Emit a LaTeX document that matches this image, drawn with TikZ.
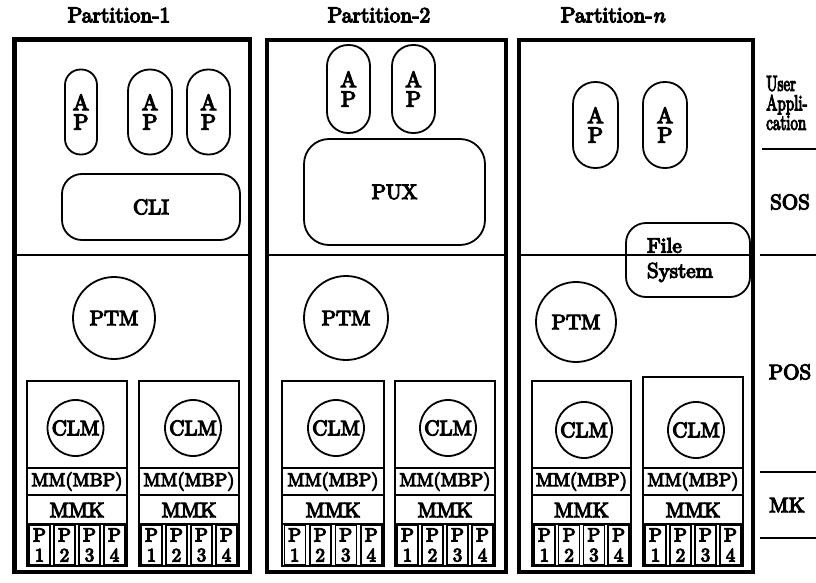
\documentclass[tikz,border=0pt]{standalone}
\usepackage{fontspec}
\setmainfont{lmroman10-regular.otf}[ItalicFont=lmroman10-italic.otf, FakeBold=5.5]
\newcommand\clmstack[6]{%
  \draw[innerbox] (#2,#4) rectangle (#3,566);
  \draw[rowline] (#2,468) -- (#3,468);
  \draw[rowline] (#2,495) -- (#3,495);
  \draw[rowline] (#2,524) -- (#3,524);
  \node[circ, minimum size=56pt] (#1clm) at (#5,#6) {CLM};
  \node[rowtxt] (#1mm) at ({(#2+#3)/2},481.5) {MM(MBP)};
  \node[rowtxt, font=\fontsize{21}{24}\selectfont] (#1mmk) at ({(#2+#3)/2},510) {MMK};
  \foreach \k in {1,2,3,4} {\node[cell] (#1p\k) at ({#2+(\k-0.5)*(#3-#2)/4},545) {P\\\k};}
}
\begin{document}
\begin{tikzpicture}[x=1pt,y=-1pt,
  title/.style={font=\fontsize{21.5}{25}\selectfont},
  outerbox/.style={line width=4.5pt},
  divider/.style={line width=2.4pt},
  innerbox/.style={line width=2.8pt},
  rowline/.style={line width=2.2pt},
  ap/.style={draw, line width=1.8pt, minimum height=85pt, align=center, inner sep=0pt, font=\fontsize{22}{19.5}\selectfont},
  rbox/.style={draw, line width=1.8pt, inner sep=0pt, font=\fontsize{21}{25}\selectfont},
  circ/.style={draw, circle, line width=1.8pt, inner sep=0pt, font=\fontsize{21}{25}\selectfont},
  rowtxt/.style={inner sep=0pt, font=\fontsize{18.5}{22}\selectfont},
  cell/.style={draw, line width=1.5pt, minimum width=21pt, minimum height=40pt, inner sep=0pt, align=center, font=\fontsize{19}{20}\selectfont},
  side/.style={font=\fontsize{21}{25}\selectfont},
  sideline/.style={line width=2.4pt}]
\useasboundingbox (0,0) rectangle (816,583);
% titles
\node[title] (t1) at (119,15) {Partition-1};
\node[title] (t2) at (379,15) {Partition-2};
\node[title] (t3) at (613,15) {Partition-\textit{n}};
% outer boxes
\draw[outerbox] (14.5,39.5) rectangle (250,572);
\draw[outerbox] (267,40) rectangle (506,572);
\draw[outerbox] (519,40) rectangle (753,572);
\draw[divider] (14.5,255) -- (250,255);
\draw[divider] (267,255) -- (506,255);
\draw[divider] (519,255) -- (753,255);
% partition 1
\node[ap, minimum width=32pt, rounded corners=15.5pt] (ap11) at (81,112) {A\\P};
\node[ap, minimum width=44pt, rounded corners=21.5pt] (ap12) at (150,112) {A\\P};
\node[ap, minimum width=43pt, rounded corners=21pt] (ap13) at (208.5,112) {A\\P};
\node[rbox, minimum width=178pt, minimum height=66pt, rounded corners=20pt] (cli) at (151,207) {CLI};
\node[circ, minimum size=82pt] (ptm1) at (114,318) {PTM};
\clmstack{a}{27}{127}{381}{75.5}{428}
\clmstack{b}{139}{239}{381}{193}{428}
% partition 2
\node[ap, minimum width=43pt, minimum height=88pt, rounded corners=21pt] (ap21) at (348.5,89) {A\\P};
\node[ap, minimum width=43pt, minimum height=88pt, rounded corners=21pt] (ap22) at (413.5,89) {A\\P};
\node[rbox, minimum width=181pt, minimum height=106pt, rounded corners=25pt] (pux) at (394.5,192) {PUX};
\node[circ, minimum size=84pt] (ptm2) at (346,318) {PTM};
\clmstack{c}{282}{384}{381}{336}{428}
\clmstack{d}{395}{495}{381}{448}{428}
% partition n
\node[ap, minimum width=45pt, minimum height=86pt, rounded corners=22pt] (ap31) at (595.5,125) {A\\P};
\node[ap, minimum width=44pt, minimum height=86pt, rounded corners=21.5pt] (ap32) at (665,125) {A\\P};
\node[rbox, minimum width=124pt, minimum height=74pt, rounded corners=20pt, text width=82pt, inner xsep=21pt, align=left] (fs) at (688,260) {File\\System};
\node[circ, minimum size=80pt] (ptm3) at (576,322) {PTM};
\clmstack{e}{532}{631}{381}{584}{430}
\clmstack{f}{643}{743}{377}{696}{430}
% side labels
\node[anchor=west, align=left, inner sep=0pt, font=\fontsize{21.5}{19.5}\selectfont] (ua) at (766,103) {\scalebox{0.7}[1]{User}\\\scalebox{0.7}[1]{Appli-}\\\scalebox{0.7}[1]{cation}};
\node[side] (sos) at (790,202) {SOS};
\node[side] (pos) at (790,372) {POS};
\node[side] (mk) at (787,505) {MK};
\coordinate (l1a) at (762,149); \coordinate (l1b) at (816,149);
\coordinate (l2a) at (760,255); \coordinate (l2b) at (816,255);
\coordinate (l3a) at (760,472); \coordinate (l3b) at (816,472);
\coordinate (l4a) at (760,538); \coordinate (l4b) at (816,538);
\draw[sideline] (l1a) -- (l1b);
\draw[sideline] (l2a) -- (l2b);
\draw[sideline] (l3a) -- (l3b);
\draw[sideline] (l4a) -- (l4b);
\end{tikzpicture}
\end{document}
